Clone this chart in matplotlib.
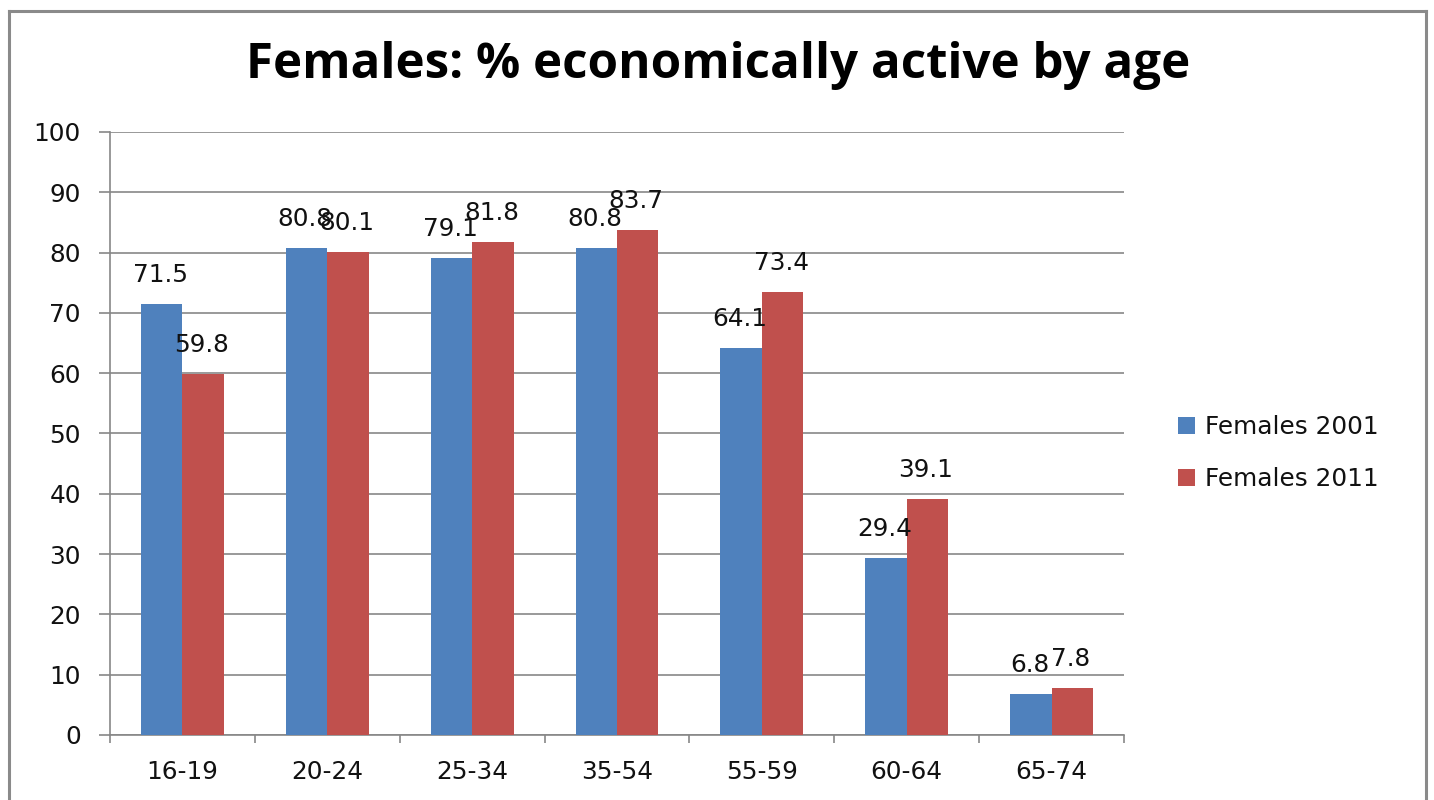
import matplotlib
matplotlib.use("Agg")
import matplotlib.pyplot as plt
import numpy as np
from matplotlib.lines import Line2D

plt.rcParams['font.family'] = ['DejaVu Sans']

# Data
age_groups = ["16-19", "20-24", "25-34", "35-54", "55-59", "60-64", "65-74"]
females_2001 = [71.5, 80.8, 79.1, 80.8, 64.1, 29.4, 6.8]
females_2011 = [59.8, 80.1, 81.8, 83.7, 73.4, 39.1, 7.8]
series_names = ["Females 2001", "Females 2011"]
title = "Females: % economically active by age"

blue = "#4F81BD"
red = "#C0504D"
grid_gray = "#878787"
text_color = "#111111"
fs = 17.8

W, H = 1434, 800
fig = plt.figure(figsize=(W / 100, H / 100), dpi=100)
fig.patch.set_facecolor("white")

# Plot area in pixel coordinates
left_px, right_px, top_px, bottom_px = 110, 1124, 132, 735
ax = fig.add_axes([left_px / W, 1 - bottom_px / H,
                   (right_px - left_px) / W, (bottom_px - top_px) / H])

x = np.arange(len(age_groups))
bw = 1 / 3.5
b1 = ax.bar(x - bw / 2, females_2001, width=bw, color=blue, label=series_names[0], zorder=3)
b2 = ax.bar(x + bw / 2, females_2011, width=bw, color=red, label=series_names[1], zorder=3)

# Value labels above each bar
for bars, vals in ((b1, females_2001), (b2, females_2011)):
    for rect, v in zip(bars, vals):
        ax.annotate(f"{v:.1f}", (rect.get_x() + rect.get_width() / 2, v),
                    xytext=(-1, 21), textcoords="offset points",
                    ha="center", va="center", fontsize=fs, color=text_color, zorder=4)

ax.set_xlim(-0.5, len(age_groups) - 0.5)
ax.set_ylim(0, 100)
ax.set_yticks(np.arange(0, 101, 10))
ax.yaxis.grid(True, color=grid_gray, linewidth=1.2, zorder=0)
ax.set_axisbelow(True)

ax.set_xticks(x)
ax.set_xticklabels(age_groups)
ax.set_xticks(np.arange(-0.5, len(age_groups)), minor=True)
ax.tick_params(axis="x", which="major", length=0, pad=18, labelsize=fs, labelcolor=text_color)
ax.tick_params(axis="x", which="minor", length=6, width=1.2, color=grid_gray, direction="out")
ax.tick_params(axis="y", which="major", length=8, width=1.2, color=grid_gray,
               pad=13, labelsize=fs, labelcolor=text_color)

for side in ("top", "right"):
    ax.spines[side].set_visible(False)
for side in ("left", "bottom"):
    ax.spines[side].set_color(grid_gray)
    ax.spines[side].set_linewidth(1.2)

fig.text(718 / W, 1 - 66 / H, title, ha="center", va="center",
         fontsize=35.5, fontweight="bold", color="black", family=["Open Sans", "DejaVu Sans"])

leg = fig.legend(handles=[b1, b2], labels=series_names, loc="center left",
                 bbox_to_anchor=(1168 / W, 1 - 453 / H), frameon=False,
                 fontsize=fs, handlelength=0.7, handleheight=0.7,
                 handletextpad=0.4, labelspacing=1.12, borderaxespad=0)
for t in leg.get_texts():
    t.set_color(text_color)

# Outer chart border (left, top, right)
bc = "#8a8a8a"
lw = 2.2
x0, x1, y0 = 9 / W, 1426 / W, 1 - 11 / H
fig.add_artist(Line2D([x0, x0], [0, y0], transform=fig.transFigure, color=bc, lw=lw))
fig.add_artist(Line2D([x0, x1], [y0, y0], transform=fig.transFigure, color=bc, lw=lw))
fig.add_artist(Line2D([x1, x1], [0, y0], transform=fig.transFigure, color=bc, lw=lw))

fig.savefig("out.png", dpi=100)
